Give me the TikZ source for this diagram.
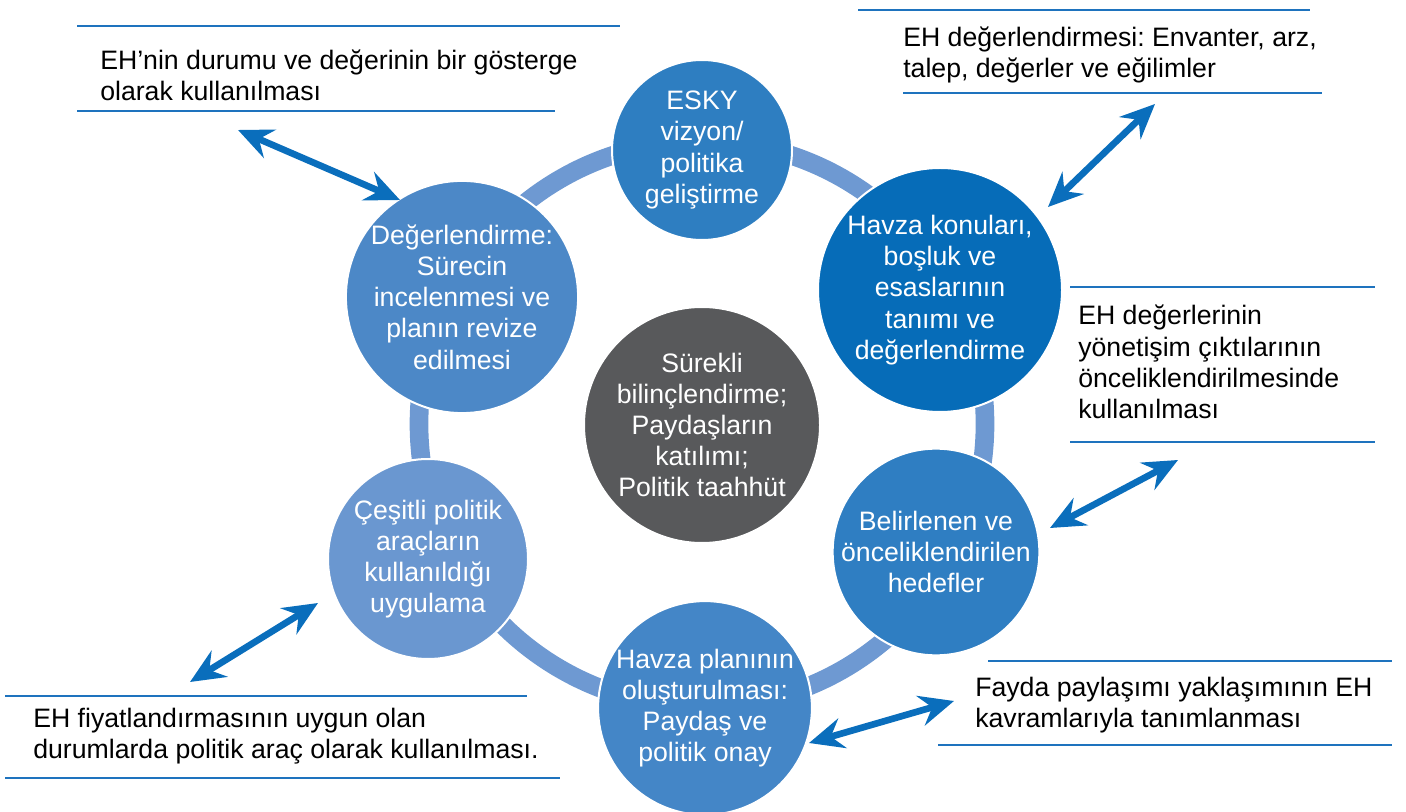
\documentclass[tikz,border=0pt]{standalone}
\usepackage{fontspec}
\setmainfont{Liberation Sans}
\usetikzlibrary{arrows.meta}
\frenchspacing

\definecolor{ringblue}{RGB}{110,153,210}
\definecolor{cesky}{RGB}{46,126,193}
\definecolor{chavza}{RGB}{6,108,184}
\definecolor{chedef}{RGB}{47,126,194}
\definecolor{cplan}{RGB}{68,134,199}
\definecolor{cuyg}{RGB}{106,151,208}
\definecolor{cdeg}{RGB}{76,136,199}
\definecolor{cdark}{RGB}{88,89,91}
\definecolor{arrowblue}{RGB}{10,110,188}
\definecolor{ruleblue}{RGB}{30,115,190}

\tikzset{
  stage/.style={circle, draw=white, line width=1.5pt, text=white, align=center,
    inner sep=0pt, font=\fontsize{20}{23.4}\selectfont},
  note/.style={anchor=west, align=left, inner sep=0pt, text=black,
    font=\fontsize{20}{23.4}\selectfont},
  rule/.style={draw=ruleblue, line width=2.2pt},
  link/.style={draw=arrowblue, line width=5pt,
    {Stealth[length=26pt,width=23pt,inset=9pt]}-{Stealth[length=26pt,width=23pt,inset=9pt]}},
}

\begin{document}
\begin{tikzpicture}[x=0.75pt,y=-0.75pt]
\useasboundingbox (0,0) rectangle (1406,812);

% the cycle ring behind the stages
\draw[ringblue, line width=14pt] (702,424) circle[radius=283];

% stages of the cycle
\node[stage, fill=cesky, minimum size=135pt] (esky) at (702,150)
  {ESKY\\vizyon/\\politika\\geliştirme};
\node[stage, fill=chavza, minimum size=183pt] (havza) at (940,290)
  {Havza konuları,\\boşluk ve\\esaslarının\\tanımı ve\\değerlendirme};
\node[stage, fill=chedef, minimum size=154pt] (hedef) at (936,552)
  {Belirlenen ve\\önceliklendirilen\\hedefler};
\node[stage, fill=cplan, minimum size=156pt] (plan) at (705,708)
  {Havza planının\\oluşturulması:\\Paydaş ve\\politik onay};
\node[stage, fill=cuyg, minimum size=150pt] (uyg) at (428,559)
  {Çeşitli politik\\araçların\\kullanıldığı\\uygulama};
\node[stage, fill=cdeg, minimum size=171pt] (deg) at (462,297)
  {Değerlendirme:\\Sürecin\\incelenmesi ve\\planın revize\\edilmesi};
\node[stage, fill=cdark, minimum size=177pt] (core) at (702,425)
  {Sürekli\\bilinçlendirme;\\Paydaşların\\katılımı;\\Politik taahhüt};

% side notes with their rules
\node[note] (n1) at (100,75) {EH’nin durumu ve değerinin bir gösterge\\olarak kullanılması};
\draw[rule] (77,26) -- (620,26);
\draw[rule] (77,111) -- (555,111);

\node[note] (n2) at (903,55) {EH değerlendirmesi: Envanter, arz,\\talep, değerler ve eğilimler};
\draw[rule] (858,10) -- (1310,10);
\draw[rule] (903,93) -- (1322,93);

\node[note] (n3) at (1078,362) {EH değerlerinin\\yönetişim çıktılarının\\önceliklendirilmesinde\\kullanılması};
\draw[rule] (1070,287) -- (1375,287);
\draw[rule] (1070,442) -- (1375,442);

\node[note] (n4) at (975,705) {Fayda paylaşımı yaklaşımının EH\\kavramlarıyla tanımlanması};
\draw[rule] (988,661) -- (1392,661);
\draw[rule] (938,745) -- (1392,745);

\node[note] (n5) at (33,736) {EH fiyatlandırmasının uygun olan\\durumlarda politik araç olarak kullanılması.};
\draw[rule] (5,696) -- (527,696);
\draw[rule] (5,778) -- (560,778);

% double-headed links between notes and stages
\coordinate (a1s) at (238,130); \coordinate (a1e) at (400,200);
\coordinate (a2s) at (1048,207); \coordinate (a2e) at (1155,104);
\coordinate (a3s) at (1050,528); \coordinate (a3e) at (1178,460);
\coordinate (a4s) at (809,743); \coordinate (a4e) at (954,701);
\coordinate (a5s) at (190,682); \coordinate (a5e) at (318,603);
\draw[link] (a1s) -- (a1e);
\draw[link] (a2s) -- (a2e);
\draw[link] (a3s) -- (a3e);
\draw[link] (a4s) -- (a4e);
\draw[link] (a5s) -- (a5e);
\end{tikzpicture}
\end{document}
